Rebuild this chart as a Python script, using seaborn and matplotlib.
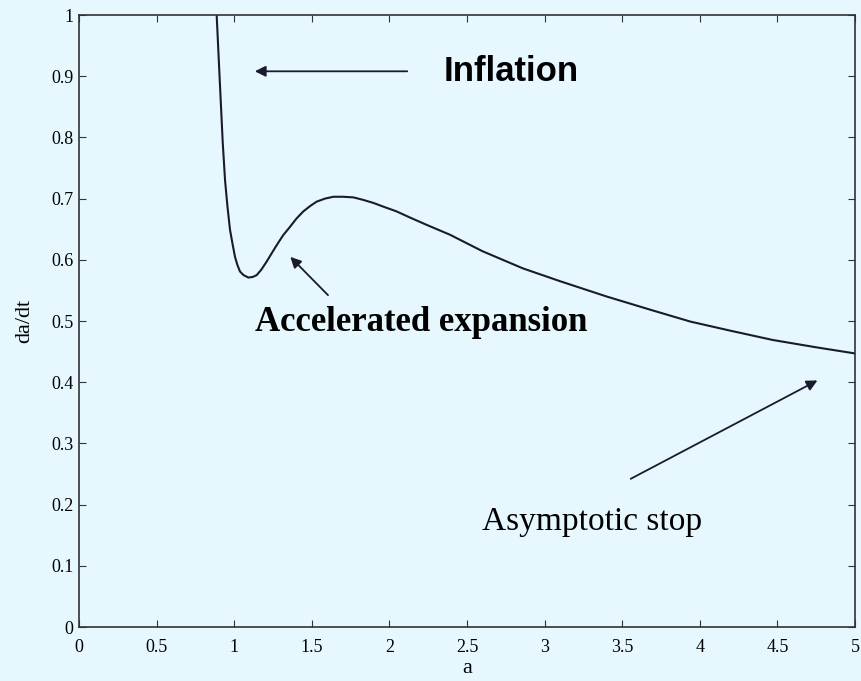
import matplotlib
matplotlib.use("Agg")
import matplotlib.pyplot as plt
import seaborn as sns
import pandas as pd

# data
a_vals = [0.887, 0.900, 0.913, 0.926, 0.941, 0.957, 0.973, 0.990, 1.005, 1.020,
          1.037, 1.060, 1.091, 1.120, 1.145, 1.175, 1.209, 1.240, 1.274, 1.315,
          1.360, 1.400, 1.445, 1.490, 1.531, 1.585, 1.639, 1.700, 1.768, 1.830,
          1.896, 1.970, 2.047, 2.133, 2.250, 2.390, 2.600, 2.860, 3.100, 3.400,
          3.700, 3.940, 4.200, 4.470, 4.750, 5.000]
dadt_vals = [1.000, 0.930, 0.861, 0.792, 0.730, 0.686, 0.649, 0.625, 0.605, 0.592,
             0.581, 0.575, 0.571, 0.572, 0.575, 0.584, 0.597, 0.610, 0.624, 0.640,
             0.654, 0.667, 0.679, 0.688, 0.695, 0.700, 0.703, 0.703, 0.702, 0.698,
             0.693, 0.686, 0.679, 0.669, 0.656, 0.641, 0.614, 0.586, 0.565, 0.540,
             0.517, 0.499, 0.484, 0.469, 0.457, 0.447]
x_ticks = [0, 0.5, 1, 1.5, 2, 2.5, 3, 3.5, 4, 4.5, 5]
x_ticklabels = ["0", "0.5", "1", "1.5", "2", "2.5", "3", "3.5", "4", "4.5", "5"]
y_ticks = [0, 0.1, 0.2, 0.3, 0.4, 0.5, 0.6, 0.7, 0.8, 0.9, 1]
y_ticklabels = ["0", "0.1", "0.2", "0.3", "0.4", "0.5", "0.6", "0.7", "0.8", "0.9", "1"]

bg = "#E6F8FD"
sns.set_style("ticks")
plt.rcParams["font.family"] = ["Liberation Serif", "DejaVu Serif"]
plt.rcParams["text.color"] = "black"

fig = plt.figure(figsize=(8.61, 6.81), dpi=100, facecolor=bg)
ax = fig.add_axes([79 / 861, 1 - 627 / 681, (855 - 79) / 861, (627 - 15) / 681])
ax.set_facecolor(bg)

df = pd.DataFrame({"a": a_vals, "da/dt": dadt_vals})
sns.lineplot(data=df, x="a", y="da/dt", ax=ax, color="#1a1a2e", linewidth=1.5, sort=False)

ax.set_xlim(0, 5)
ax.set_ylim(0, 1)
ax.set_xticks(x_ticks)
ax.set_xticklabels(x_ticklabels)
ax.set_yticks(y_ticks)
ax.set_yticklabels(y_ticklabels)
ax.tick_params(direction="in", length=5, width=0.8, top=True, right=True,
               labelsize=13, colors="#333333", labelcolor="black", pad=4)
ax.tick_params(axis="x", pad=9)
for s in ax.spines.values():
    s.set_color("#333333")
    s.set_linewidth(1.2)
ax.set_xlabel("a", fontsize=16, labelpad=2, color="black")
ax.set_ylabel("da/dt", fontsize=16, labelpad=12, color="black")

arrow = dict(arrowstyle="-|>", color="#1a1a2e", lw=1.3, mutation_scale=16)
ax.annotate("", xy=(1.115, 0.908), xytext=(2.133, 0.908), arrowprops=arrow)
ax.text(2.35, 0.908, "Inflation", fontsize=25, fontweight="bold", color="black",
        family=["Liberation Sans", "DejaVu Sans"], va="center", ha="left")

ax.annotate("", xy=(1.349, 0.608), xytext=(1.617, 0.539), arrowprops=arrow)
ax.text(1.134, 0.497, "Accelerated expansion", fontsize=25, fontweight="bold",
        color="black", va="center", ha="left")

ax.annotate("", xy=(4.774, 0.405), xytext=(3.539, 0.240), arrowprops=arrow)
ax.text(2.595, 0.172, "Asymptotic stop", fontsize=24, color="black",
        va="center", ha="left")

fig.savefig("out.png", dpi=100, facecolor=bg)
